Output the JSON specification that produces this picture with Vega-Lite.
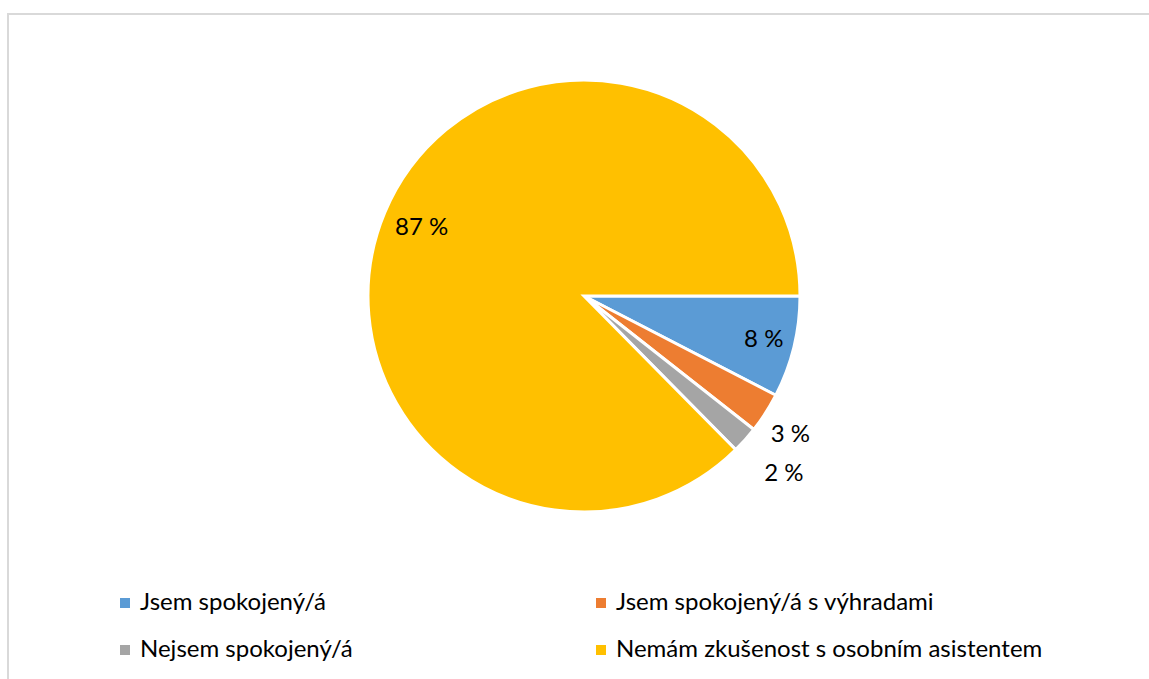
{
  "$schema": "https://vega.github.io/schema/vega-lite/v6.json",
  "width": 1143,
  "height": 667,
  "autosize": {"type": "none"},
  "padding": {"left": 8, "top": 14, "right": -2, "bottom": -2},
  "background": "white",
  "view": {"stroke": "#d9d9d9", "strokeWidth": 2, "fill": "white"},
  "config": {
    "view": {"stroke": "#d9d9d9", "strokeWidth": 2},
    "font": "Lato"
  },
  "data": {
    "values": [
      {"category": "Jsem spokojený/á", "value": 7.6, "label": "8 %", "order": 1},
      {"category": "Jsem spokojený/á s výhradami", "value": 3.0, "label": "3 %", "order": 2},
      {"category": "Nejsem spokojený/á", "value": 2.0, "label": "2 %", "order": 3},
      {"category": "Nemám zkušenost s osobním asistentem", "value": 87.4, "label": "87 %", "order": 4}
    ]
  },
  "encoding": {
    "theta": {"field": "value", "type": "quantitative", "stack": true, "scale": {"range": [1.5707963, 7.8539816]}},
    "order": {"field": "order", "type": "ordinal"},
    "color": {
      "field": "category",
      "type": "nominal",
      "scale": {
        "domain": ["Jsem spokojený/á", "Jsem spokojený/á s výhradami", "Nejsem spokojený/á", "Nemám zkušenost s osobním asistentem"],
        "range": ["#5B9BD5", "#ED7D31", "#A5A5A5", "#FFC000"]
      },
      "legend": {
        "title": null,
        "orient": "none",
        "direction": "horizontal",
        "legendX": 105,
        "legendY": 577,
        "columns": 2,
        "columnPadding": 236,
        "rowPadding": 23,
        "padding": 0,
        "symbolType": "square",
        "symbolSize": 100,
        "symbolStrokeWidth": 0,
        "labelFont": "Lato",
        "labelFontSize": 24,
        "labelColor": "#000000",
        "labelOffset": 3,
        "labelLimit": 600
      }
    }
  },
  "layer": [
    {
      "mark": {"type": "arc", "radius": 216, "stroke": "white", "strokeWidth": 3, "xOffset": 4.5, "yOffset": -51.5}
    },
    {
      "mark": {"type": "text", "radius": 185, "fontSize": 24, "font": "Lato", "xOffset": 4.5, "yOffset": -51.5},
      "encoding": {
        "color": {"value": "#000000"},
        "text": {"condition": {"test": "datum.order == 1", "field": "label"}, "value": ""}
      }
    },
    {
      "mark": {"type": "text", "radius": 176, "fontSize": 24, "font": "Lato", "xOffset": 4.5, "yOffset": -51.5},
      "encoding": {
        "color": {"value": "#000000"},
        "text": {"condition": {"test": "datum.order == 4", "field": "label"}, "value": ""}
      }
    },
    {
      "mark": {"type": "text", "radius": 249, "fontSize": 24, "font": "Lato", "xOffset": 1.5, "yOffset": -47.5},
      "encoding": {
        "color": {"value": "#000000"},
        "text": {"condition": {"test": "datum.order == 2", "field": "label"}, "value": ""}
      }
    },
    {
      "mark": {"type": "text", "radius": 268, "fontSize": 24, "font": "Lato", "xOffset": 4.5, "yOffset": -51.5},
      "encoding": {
        "color": {"value": "#000000"},
        "text": {"condition": {"test": "datum.order == 3", "field": "label"}, "value": ""}
      }
    }
  ]
}
